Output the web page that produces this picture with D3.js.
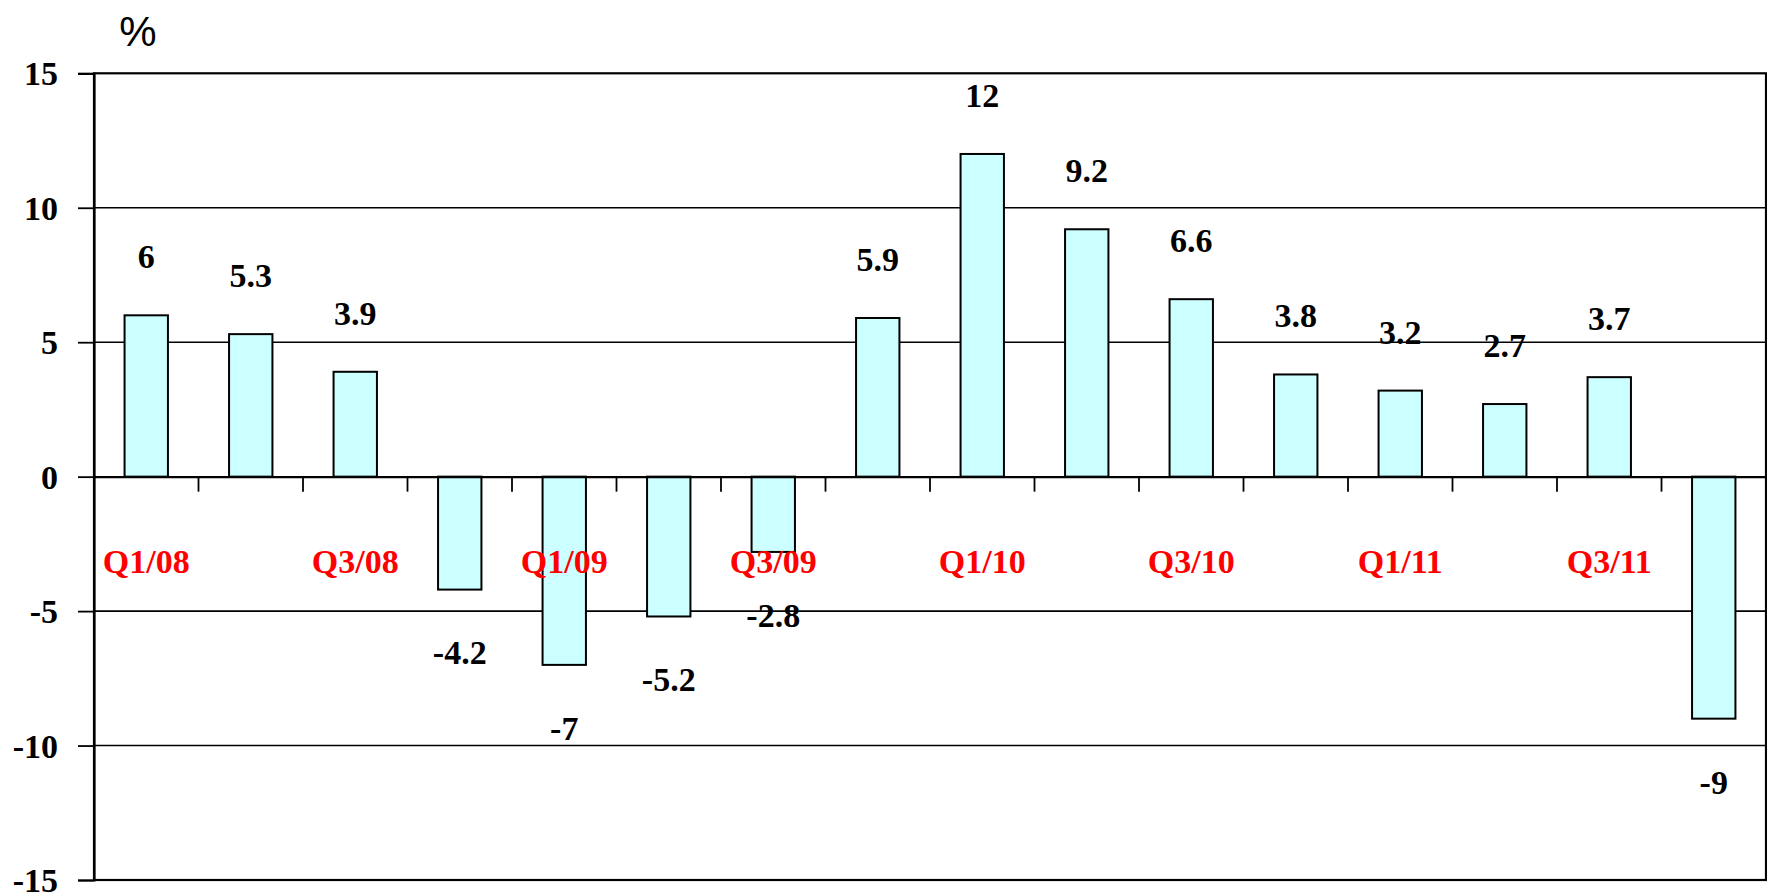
<!DOCTYPE html>
<html>
<head>
<meta charset="utf-8">
<script src="https://cdn.jsdelivr.net/npm/d3@7"></script>
<style>
  html, body { margin: 0; padding: 0; background: #fff; }
  svg { display: block; }
</style>
</head>
<body>
<svg id="chart" width="1767" height="892"></svg>
<script>
// Quarterly growth, %
const quarters = ["Q1/08","Q2/08","Q3/08","Q4/08","Q1/09","Q2/09","Q3/09","Q4/09",
                  "Q1/10","Q2/10","Q3/10","Q4/10","Q1/11","Q2/11","Q3/11","Q4/11"];
const growth = [6, 5.3, 3.9, -4.2, -7, -5.2, -2.8, 5.9, 12, 9.2, 6.6, 3.8, 3.2, 2.7, 3.7, -9];
const yTicks = [-15, -10, -5, 0, 5, 10, 15];
const shownQuarters = ["Q1/08","Q3/08","Q1/09","Q3/09","Q1/10","Q3/10","Q1/11","Q3/11"];

const svg = d3.select("#chart");
const plotLeft = 94, plotRight = 1766, plotTop = 73.3, plotBottom = 880;

const x = d3.scaleBand().domain(quarters).range([plotLeft, plotRight]).paddingInner(0.585).paddingOuter(0.2925);
const band = d3.scaleBand().domain(quarters).range([plotLeft, plotRight]);
const y = d3.scaleLinear().domain([-15, 15]).range([plotBottom, plotTop]);

const serif = "'Liberation Serif', 'Times New Roman', serif";
const fontSize = 34;
const fmt = d => d < 0 ? "-" + Math.abs(d) : String(d);

// horizontal gridlines
svg.append("g").selectAll("line").data(yTicks.filter(d => d !== 0 && d !== 15 && d !== -15)).join("line")
  .attr("x1", plotLeft).attr("x2", plotRight)
  .attr("y1", d => y(d)).attr("y2", d => y(d))
  .attr("stroke", "#000").attr("stroke-width", 1.6);

// bars
svg.append("g").selectAll("rect").data(growth).join("rect")
  .attr("x", (d, i) => x(quarters[i]))
  .attr("width", x.bandwidth())
  .attr("y", d => y(Math.max(0, d)))
  .attr("height", d => Math.abs(y(d) - y(0)))
  .attr("fill", "#CCFFFF")
  .attr("stroke", "#000").attr("stroke-width", 2);

// frame
svg.append("rect").attr("x", plotLeft).attr("y", plotTop)
  .attr("width", plotRight - plotLeft).attr("height", plotBottom - plotTop)
  .attr("fill", "none").attr("stroke", "#000").attr("stroke-width", 2.2);

// y axis with outward ticks
const yAxis = svg.append("g").attr("transform", `translate(${plotLeft},0)`)
  .call(d3.axisLeft(y).tickValues(yTicks).tickSize(16).tickPadding(20).tickFormat(fmt));
yAxis.select(".domain").attr("stroke-width", 2.2);
yAxis.selectAll(".tick line").attr("stroke-width", 1.8);
yAxis.selectAll("text").attr("font-family", serif).attr("font-weight", "bold")
  .attr("font-size", fontSize).attr("fill", "#000").attr("dy", "0.34em");

// zero line with category boundary ticks
const xAxis = svg.append("g").attr("transform", `translate(0,${y(0)})`)
  .call(d3.axisBottom(band).tickSize(0).tickFormat(""));
xAxis.select(".domain").attr("stroke-width", 2.4);
xAxis.selectAll(".tick").remove();
xAxis.selectAll("line.sep").data(quarters.slice(1)).join("line")
  .attr("class", "sep")
  .attr("x1", d => band(d)).attr("x2", d => band(d))
  .attr("y1", 0).attr("y2", 15)
  .attr("stroke", "#000").attr("stroke-width", 1.8);

// category labels (every second quarter)
svg.append("g").selectAll("text").data(shownQuarters).join("text")
  .attr("x", d => x(d) + x.bandwidth() / 2)
  .attr("y", y(0) + 84)
  .attr("dy", "0.35em")
  .attr("text-anchor", "middle")
  .attr("font-family", serif).attr("font-weight", "bold").attr("font-size", fontSize)
  .attr("fill", "#FF0000")
  .text(d => d);

// value labels
svg.append("g").selectAll("text").data(growth).join("text")
  .attr("x", (d, i) => x(quarters[i]) + x.bandwidth() / 2)
  .attr("y", d => d >= 0 ? y(d) - 59 : y(d) + 63)
  .attr("dy", "0.35em")
  .attr("text-anchor", "middle")
  .attr("font-family", serif).attr("font-weight", "bold").attr("font-size", fontSize)
  .attr("fill", "#000")
  .text(fmt);

// unit
svg.append("text").attr("x", 138).attr("y", 46)
  .attr("text-anchor", "middle")
  .attr("font-family", "'Liberation Sans', Arial, sans-serif").attr("font-size", 42)
  .attr("fill", "#000").text("%");
</script>
</body>
</html>
